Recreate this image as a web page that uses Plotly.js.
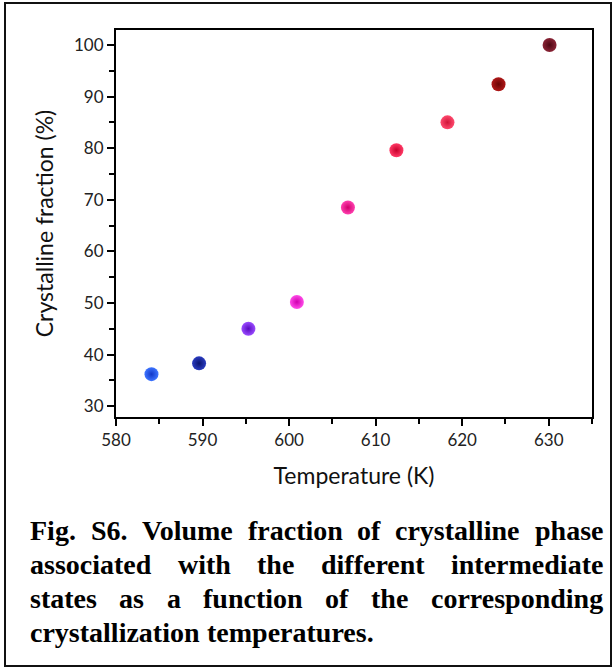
<!DOCTYPE html>
<html>
<head>
<meta charset="utf-8">
<script src="https://cdn.plot.ly/plotly-3.0.1.min.js"></script>
<style>html,body{margin:0;padding:0;background:#fff;}#chart{width:614px;height:669px;}</style>
</head>
<body>
<div id="chart"></div>
<script>
// Data
const temperatureK = [584.1, 589.6, 595.3, 600.9, 606.8, 612.4, 618.3, 624.2, 630.1];
const crystallineFraction = [36.2, 38.3, 45.0, 50.2, 68.5, 79.6, 85.0, 92.4, 100.0];
const pointColors = ['#3d74ff', '#2a3cc0', '#9a4cff', '#ff4ce8', '#ff40b0', '#ff3a66', '#ff4a6e', '#b01818', '#8a2436'];
const pointEdgeColors = ['#1238c8', '#0a1470', '#5a0ac0', '#d000b0', '#d0006c', '#c8002c', '#d01438', '#6a0404', '#4e0612'];
const xTicks = [580, 590, 600, 610, 620, 630];
const yTicks = [30, 40, 50, 60, 70, 80, 90, 100];
const captionLines = [
  'Fig. S6. Volume fraction of crystalline phase',
  'associated with the different intermediate',
  'states as a function of the corresponding',
  'crystallization temperatures.'
];

// Layout geometry (pixels)
const W = 614, H = 669;
const M = {l: 116, r: 22, t: 30, b: 252};
const PW = W - M.l - M.r, PH = H - M.t - M.b;
const px2x = p => (p - M.l) / PW;
const py2y = p => (H - M.b - p) / PH;

const annotations = [];
// Justified caption
const capFont = 28;
const capFamily = '"Liberation Serif", "Times New Roman", serif';
const cv = document.createElement('canvas').getContext('2d');
cv.font = 'bold ' + capFont + 'px "Liberation Serif"';
const capLeft = 28, capRight = 601;
const capCenters = [530, 564, 598, 632];
captionLines.forEach((line, i) => {
  const words = line.split(' ');
  const widths = words.map(w => cv.measureText(w).width);
  const total = widths.reduce((a, b) => a + b, 0);
  const justify = i < captionLines.length - 1;
  const gap = justify ? (capRight - capLeft - total) / (words.length - 1) : cv.measureText(' ').width;
  let x = capLeft;
  words.forEach((w, j) => {
    annotations.push({
      text: '<b>' + w + '</b>', xref: 'paper', yref: 'paper',
      x: px2x(x), y: py2y(capCenters[i]), xanchor: 'left', yanchor: 'middle',
      showarrow: false, font: {family: capFamily, size: capFont, color: '#000'}
    });
    x += widths[j] + gap;
  });
});

const trace = {
  x: temperatureK, y: crystallineFraction, type: 'scatter', mode: 'markers',
  marker: {size: 14, color: pointColors, gradient: {type: 'radial', color: pointEdgeColors},
           line: {width: 0}},
  hoverinfo: 'x+y'
};

const axisFont = {family: 'Lato, "Open Sans", sans-serif', size: 17, color: '#222'};
const layout = {
  width: W, height: H, margin: M,
  paper_bgcolor: '#fff', plot_bgcolor: '#fff', showlegend: false,
  xaxis: {
    range: [580, 635], tickvals: xTicks, ticks: 'outside', ticklen: 7, tickwidth: 2, tickcolor: '#000',
    minor: {dtick: 5, tick0: 580, ticks: 'outside', ticklen: 5, tickwidth: 2, tickcolor: '#000'},
    showline: true, linecolor: '#000', linewidth: 2, mirror: true, showgrid: false, zeroline: false,
    tickfont: axisFont,
    title: {text: 'Temperature (K)', font: {family: 'Lato, "Open Sans", sans-serif', size: 23, color: '#111'}, standoff: 18}
  },
  yaxis: {
    range: [27.9, 102.9], tickvals: yTicks, ticks: 'outside', ticklen: 7, tickwidth: 2, tickcolor: '#000',
    minor: {dtick: 5, tick0: 30, ticks: 'outside', ticklen: 5, tickwidth: 2, tickcolor: '#000'},
    showline: true, linecolor: '#000', linewidth: 2, mirror: true, showgrid: false, zeroline: false,
    tickfont: axisFont,
    title: {text: 'Crystalline fraction (%)', font: {family: 'Lato, "Open Sans", sans-serif', size: 23, color: '#111'}, standoff: 14}
  },
  annotations: annotations,
  shapes: [{
    type: 'rect', xref: 'paper', yref: 'paper',
    x0: px2x(5), x1: px2x(611), y0: py2y(666), y1: py2y(3),
    line: {color: '#111', width: 2}, fillcolor: 'rgba(0,0,0,0)', layer: 'below'
  }]
};

Plotly.newPlot('chart', [trace], layout, {displayModeBar: false, staticPlot: true});
</script>
</body>
</html>
